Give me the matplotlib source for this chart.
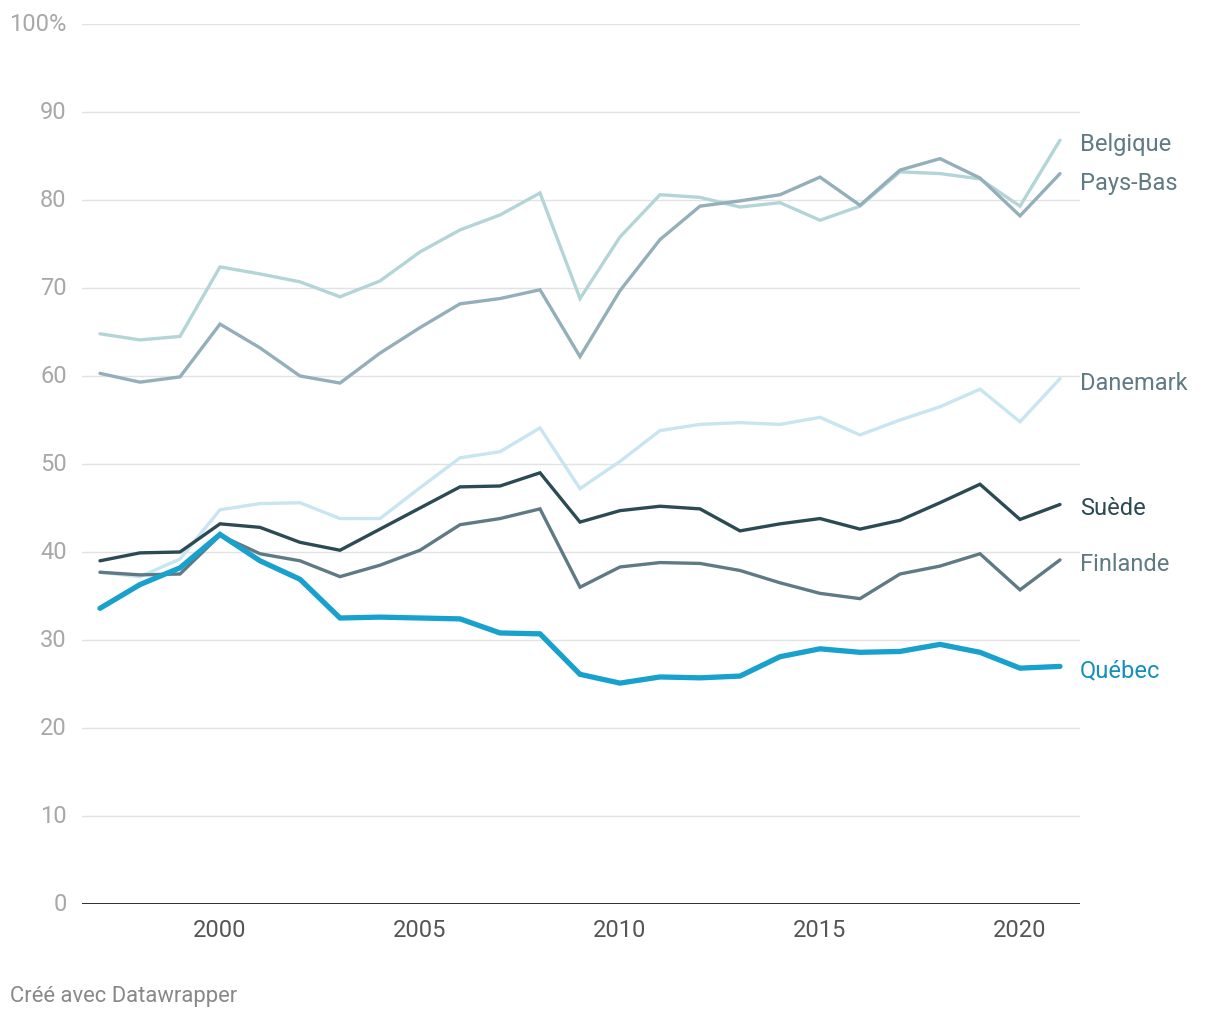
import matplotlib
matplotlib.use("Agg")
import matplotlib.pyplot as plt
import numpy as np

plt.rcParams['font.family'] = ['Roboto', 'DejaVu Sans']

years = list(range(1997, 2022))

belgique = [64.8, 64.1, 64.5, 72.4, 71.6, 70.7, 69.0, 70.8, 74.1, 76.6, 78.3, 80.8, 68.8,
            75.8, 80.6, 80.3, 79.2, 79.7, 77.7, 79.3, 83.2, 83.0, 82.4, 79.3, 86.8]
pays_bas = [60.3, 59.3, 59.9, 65.9, 63.2, 60.0, 59.2, 62.6, 65.5, 68.2, 68.8, 69.8, 62.2,
            69.7, 75.5, 79.3, 79.9, 80.6, 82.6, 79.4, 83.4, 84.7, 82.5, 78.2, 83.0]
danemark = [37.7, 37.2, 39.2, 44.8, 45.5, 45.6, 43.8, 43.8, 47.3, 50.7, 51.4, 54.1, 47.2,
            50.3, 53.8, 54.5, 54.7, 54.5, 55.3, 53.3, 55.0, 56.5, 58.5, 54.8, 59.7]
suede = [39.0, 39.9, 40.0, 43.2, 42.8, 41.1, 40.2, 42.6, 45.0, 47.4, 47.5, 49.0, 43.4,
         44.7, 45.2, 44.9, 42.4, 43.2, 43.8, 42.6, 43.6, 45.6, 47.7, 43.7, 45.4]
finlande = [37.7, 37.4, 37.5, 41.9, 39.8, 39.0, 37.2, 38.5, 40.2, 43.1, 43.8, 44.9, 36.0,
            38.3, 38.8, 38.7, 37.9, 36.5, 35.3, 34.7, 37.5, 38.4, 39.8, 35.7, 39.1]
quebec = [33.6, 36.3, 38.2, 42.0, 39.0, 36.9, 32.5, 32.6, 32.5, 32.4, 30.8, 30.7, 26.1,
          25.1, 25.8, 25.7, 25.9, 28.1, 29.0, 28.6, 28.7, 29.5, 28.6, 26.8, 27.0]

# name, values, line colour, label colour, width, label nudge
series = [
    ("Belgique", belgique, "#b4d5d8", "#5f7a84", 2.4, 0.0),
    ("Pays-Bas", pays_bas, "#94afba", "#5f7a84", 2.4, -0.6),
    ("Danemark", danemark, "#c8e5f1", "#5f7a84", 2.4, 0.0),
    ("Finlande", finlande, "#5f7a84", "#5f7a84", 2.4, 0.0),
    ("Suède", suede, "#2c4a53", "#2c4a53", 2.4, 0.0),
    ("Québec", quebec, "#18a1cd", "#1590bd", 3.8, 0.0),
]

fig = plt.figure(figsize=(12.2, 10.2), dpi=100)
ax = fig.add_axes([82 / 1220, 115 / 1020, 998 / 1220, 880 / 1020])

for name, vals, col, lcol, lw, nudge in series:
    ax.plot(years, vals, color=col, lw=lw, solid_capstyle='round',
            solid_joinstyle='miter', zorder=3)
    ax.text(2021.5, vals[-1] - 0.4 + nudge, name, color=lcol, fontsize=17,
            va='center', ha='left', clip_on=False)

ax.set_xlim(1996.55, 2021.5)
ax.set_ylim(0, 100)

yt = list(range(0, 101, 10))
ax.set_yticks(yt)
ax.set_yticklabels([str(v) if v < 100 else "100%" for v in yt])
for v in yt[1:]:
    ax.axhline(v, color="#e2e2e2", lw=1, zorder=1)
ax.axhline(0, color="#1a1a1a", lw=2, zorder=4)

ax.set_xticks([2000, 2005, 2010, 2015, 2020])
ax.tick_params(axis='both', length=0, labelsize=17)
ax.tick_params(axis='y', pad=11, labelcolor="#a8a8a8")
ax.tick_params(axis='x', pad=10, labelcolor="#555555")
for lab in ax.get_yticklabels():
    lab.set_verticalalignment('center')

for s in ax.spines.values():
    s.set_visible(False)

fig.text(10 / 1220, 1 - 997 / 1020, "Créé avec Datawrapper", color="#888888",
         fontsize=15.8, va='center', ha='left')

fig.savefig("out.png", dpi=100, facecolor="white")
